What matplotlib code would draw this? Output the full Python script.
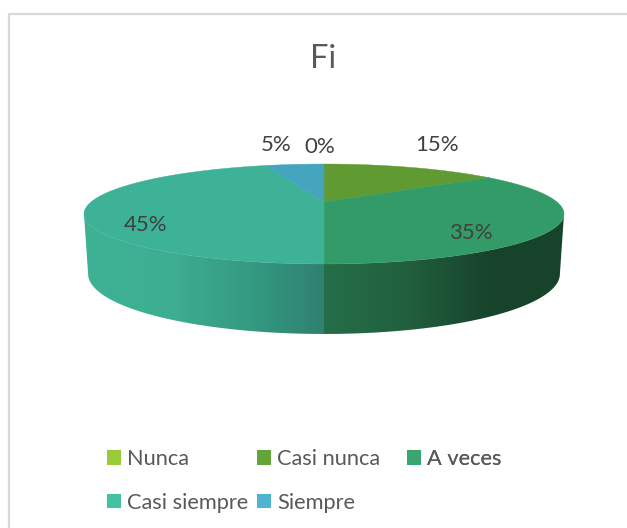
import numpy as np
import matplotlib
matplotlib.use("Agg")
import matplotlib.pyplot as plt
from matplotlib.patches import Polygon, Rectangle
from matplotlib.colors import to_rgb

# ---- data ----
categories = ["Nunca", "Casi nunca", "A veces", "Casi siempre", "Siempre"]
values = [0, 15, 35, 45, 5]
title = "Fi"

# ---- style ----
legend_colors = ["#99CB38", "#63A537", "#37A76F", "#44C1A3", "#4EB3CF"]
top_colors = ["#8EBC34", "#5F9A33", "#339B67", "#3EB296", "#45A5BE"]
side_stops = {
    2: [(324, "#246E48"), (400, "#22613F"), (450, "#1C5135"), (490, "#17432B"), (564, "#17432B")],
    3: [(84, "#3EB296"), (170, "#3EAE92"), (250, "#349A81"), (324, "#2F8070")],
}
label_pos = [(320, 147), (437, 145), (471, 233), (146, 225), (276, 145)]
TEXT = "#404040"
LEG = "#595959"
FONT = "Lato"

W, H = 627, 528
fig = plt.figure(figsize=(W / 100, H / 100), dpi=100, facecolor="white")
ax = fig.add_axes([0, 0, 1, 1])
ax.axis("off")

# perspective projection of a disc onto the image
CX, K = 324, 0.24


def project(theta, y0, A, B):
    s, c = np.sin(theta), np.cos(theta)
    d = 1 + K * c
    return CX + A * s / d, y0 - B * c / d


TOP = (202, 233, 47.1)
BOT = (259.5, 229, 56.6)

edges = np.radians(np.cumsum([0] + values) * 3.6)
silhouette = np.arccos(-K)

# side wall: a horizontal gradient image clipped to each slice's wall
for i in range(len(values)):
    if i not in side_stops:
        continue
    a0 = max(edges[i], silhouette)
    a1 = min(edges[i + 1], 2 * np.pi - silhouette)
    if a1 <= a0:
        continue
    th = np.linspace(a0, a1, 200)
    xt, yt = project(th, *TOP)
    xb, yb = project(th, *BOT)
    outline = np.column_stack([np.r_[xt, xb[::-1]], np.r_[yt, yb[::-1]]])
    xmin, xmax = outline[:, 0].min(), outline[:, 0].max()
    xs_stop = [p[0] for p in side_stops[i]]
    rgb_stop = np.array([to_rgb(p[1]) for p in side_stops[i]])
    gx = np.linspace(xmin, xmax, 480)
    grad = np.stack([np.interp(gx, xs_stop, rgb_stop[:, j]) for j in range(3)], axis=-1)[None, :, :]
    im = ax.imshow(grad, extent=(xmin, xmax, 345, 195), aspect="auto", interpolation="bilinear", zorder=2)
    clip = Polygon(outline, closed=True, facecolor="none", edgecolor="none", transform=ax.transData)
    ax.add_patch(clip)
    im.set_clip_path(clip)

ax.set_xlim(0, W)
ax.set_ylim(H, 0)

# top face
for i, v in enumerate(values):
    if v == 0:
        continue
    th = np.linspace(edges[i], edges[i + 1], 200)
    x, y = project(th, *TOP)
    pts = np.column_stack([np.r_[CX, x], np.r_[TOP[0], y]])
    ax.add_patch(Polygon(pts, closed=True, facecolor=top_colors[i], edgecolor=top_colors[i],
                         linewidth=0.3, zorder=3))

# labels
for v, (lx, ly) in zip(values, label_pos):
    ax.text(lx, ly, f"{v}%", ha="center", va="center", fontsize=16, color=TEXT, family=FONT, zorder=5)

ax.text(323.5, 58.5, title, ha="center", va="center", fontsize=23.5, color=LEG, family=FONT)

# chart frame (only top and left visible in the crop)
ax.plot([9, W], [13.5, 13.5], color="#D9D9D9", lw=1.6, solid_capstyle="butt", zorder=1)
ax.plot([9, 9], [13, H], color="#D9D9D9", lw=1.6, solid_capstyle="butt", zorder=1)

# legend: one real legend per column to keep the evenly spaced columns
columns = [[0, 3], [1, 4], [2]]
col_x = [107, 257, 407]
for idxs, cx in zip(columns, col_x):
    handles = [Rectangle((0, 0), 1, 1, facecolor=legend_colors[i], edgecolor="none") for i in idxs]
    leg = ax.legend(handles, [categories[i] for i in idxs],
                    loc="upper left", bbox_to_anchor=(cx, 449), bbox_transform=ax.transData,
                    frameon=False, borderpad=0, borderaxespad=0,
                    handlelength=0.64, handleheight=0.64, handletextpad=0.27, labelspacing=1.08,
                    labelcolor=LEG, prop={"family": FONT, "size": 15.7})
    ax.add_artist(leg)

fig.savefig("out.png", dpi=100, facecolor="white")
